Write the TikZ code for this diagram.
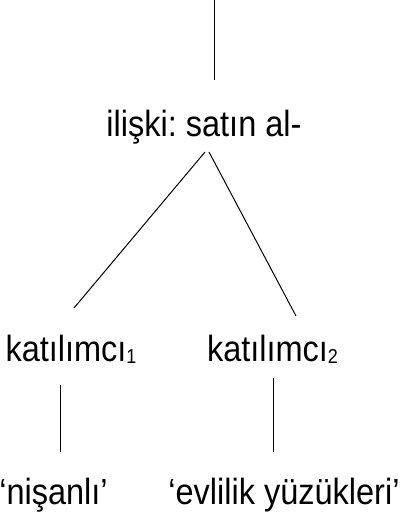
\documentclass[tikz,border=0pt]{standalone}
\usepackage{fontspec}
\setmainfont{Liberation Sans}
\usepackage{tikz}
\newcommand{\idx}[1]{\raisebox{-1.5pt}{\fontsize{18}{18}\selectfont #1}}

\begin{document}
\frenchspacing
\begin{tikzpicture}[x=1pt,y=1pt,
  word/.style={anchor=base,inner sep=0pt,yscale=1.12,transform shape,font=\fontsize{32.5}{38}\selectfont},
  branch/.style={line width=1pt}]
\useasboundingbox (0,0) rectangle (405,515);
\coordinate (top) at (214,515);
\node at (204,378)[word](root){ilişki: satın al-};
\node at (71,153)[word](kat1){katılımcı\idx{1}};
\node at (272.5,153)[word](kat2){katılımcı\idx{2}};
\node at (53.5,11)[word](nis){‘nişanlı’};
\node at (284,11)[word](evl){‘evlilik yüzükleri’};
\draw[branch] (top) -- ([yshift=57]root.base -| top);
\draw[branch] ([xshift=1,yshift=-15]root.base) -- ([xshift=3,yshift=54]kat1.base);
\draw[branch] ([xshift=5,yshift=-15]root.base) -- ([xshift=23.5,yshift=46]kat2.base);
\draw[branch] ([xshift=-11,yshift=-23]kat1.base) -- ([xshift=6.5,yshift=52]nis.base);
\draw[branch] ([xshift=0.5,yshift=-16]kat2.base) -- ([xshift=-11,yshift=52]evl.base);
\end{tikzpicture}
\end{document}
